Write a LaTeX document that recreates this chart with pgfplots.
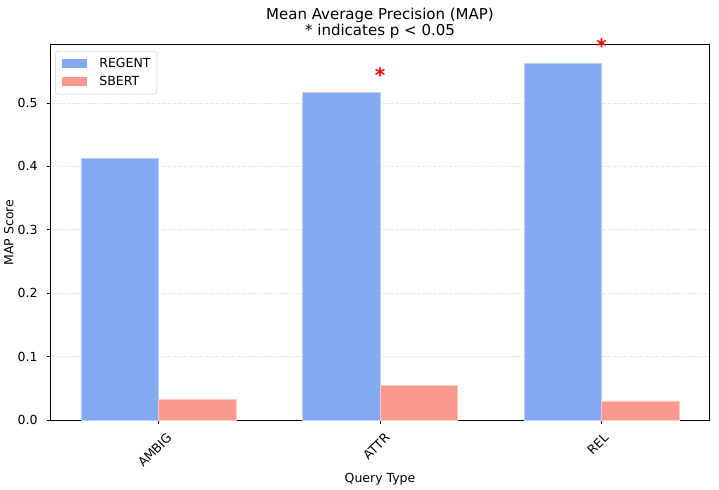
\documentclass[border=0pt]{standalone}
\usepackage{fontspec}
\setmainfont{DejaVu Sans}
\usepackage{graphicx}
\usepackage{pgfplots}
\pgfplotsset{compat=1.18}

\definecolor{regent}{RGB}{131,170,241}
\definecolor{sbert}{RGB}{251,153,142}
\definecolor{gridc}{RGB}{231,231,231}

\begin{document}
\begin{tikzpicture}
\begin{axis}[
  name=ax,
  scale only axis, width=526.4pt, height=300pt,
  xmin=-0.485, xmax=2.485, ymin=0, ymax=0.5915,
  clip=false,
  font=\fontsize{10}{12}\selectfont,
  /pgf/number format/assume math mode=true,
  xtick={0,1,2},
  xticklabels={\rotatebox{45}{AMBIG},\rotatebox{45}{ATTR},\rotatebox{45}{REL}},
  ytick={0,0.1,0.2,0.3,0.4,0.5},
  yticklabel style={/pgf/number format/fixed, /pgf/number format/fixed zerofill,
    /pgf/number format/precision=1, anchor=east, inner sep=0pt, xshift=-7pt},
  xticklabel style={anchor=north, inner sep=0pt, yshift=-6pt, xshift=-3pt},
  xtick pos=lower, ytick pos=left,
  tick align=outside, major tick length=3.5pt,
  tick style={black, line width=0.8pt},
  axis line style={line width=0.8pt},
  ymajorgrids,
  grid style={gridc, line width=0.8pt, dash pattern=on 2.96pt off 1.28pt},
  title={Mean Average Precision (MAP)\\\mbox{*} indicates p < 0.05},
  title style={font=\fontsize{12}{11.6}\selectfont, align=center,
    at={(axis description cs:0.5,1)}, anchor=south, inner sep=0pt, yshift=-1.2pt},
  xlabel={Query Type},
  xlabel style={at={(axis description cs:0.5,0)}, anchor=base, inner sep=0pt, yshift=-49.6pt},
  ylabel={MAP Score},
  ylabel style={at={(axis description cs:-0.057,0.5)}, anchor=base, inner sep=0pt},
  legend style={at={(axis description cs:0,1)}, anchor=north west, xshift=3.5pt, yshift=-4.8pt,
    draw=black!20, rounded corners=2pt, inner xsep=5pt, inner ysep=5.5pt,
    font=\fontsize{10}{12}\selectfont, row sep=5.5pt, column sep=0pt,
    nodes={inner sep=0pt, anchor=west}},
  legend cell align=left,
  legend image code/.code={%
    \path[#1, draw=none, sharp corners] (0pt,-3.5pt) rectangle (20pt,3.5pt);
    \path[draw=none, fill=none] (0pt,-3.5pt) rectangle (30pt,3.5pt);},
]
\addplot[ybar, bar width=0.35, bar shift=-0.175, fill=regent, draw=regent!55!white, line width=0.6pt]
  coordinates {(0,0.413) (1,0.517) (2,0.563)};
\addlegendentry{REGENT}
\addplot[ybar, bar width=0.35, bar shift=0.175, fill=sbert, draw=sbert!55!white, line width=0.6pt]
  coordinates {(0,0.033) (1,0.054) (2,0.030)};
\addlegendentry{SBERT}
% significance markers above REGENT bars
\addplot[draw=none, mark=none, forget plot, nodes near coords={*},
  every node near coord/.append style={red, font=\fontsize{16}{16}\selectfont\bfseries,
    anchor=center, inner sep=0pt, yshift=-1.8pt}]
  coordinates {(1,0.547) (2,0.593)};
\end{axis}
\pgfresetboundingbox
\path[use as bounding box] ([xshift=-40.8pt,yshift=-55.2pt]ax.south west)
  rectangle ([xshift=8pt,yshift=36pt]ax.north east);
\end{tikzpicture}
\end{document}
